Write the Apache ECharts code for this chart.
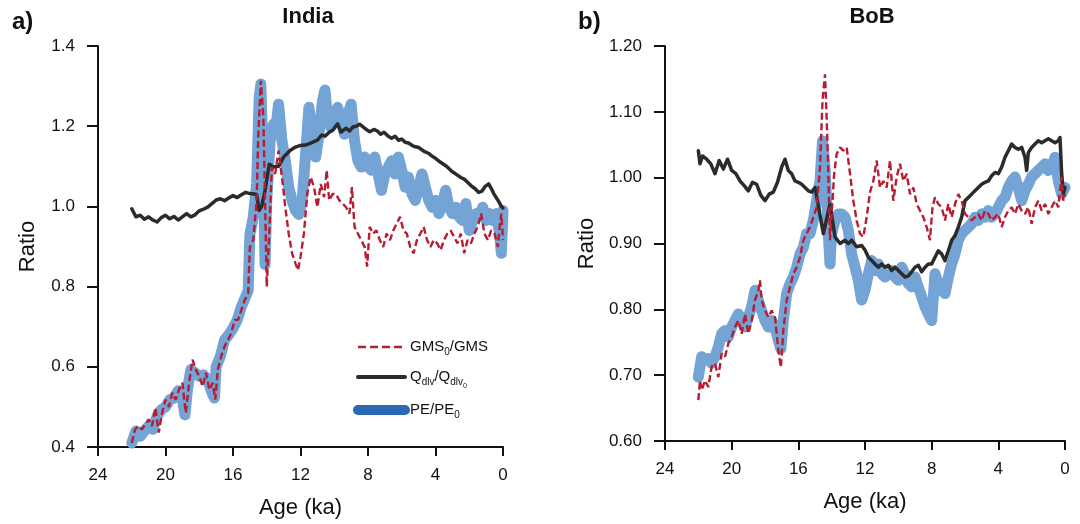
<!DOCTYPE html>
<html><head><meta charset="utf-8">
<script src="https://cdn.jsdelivr.net/npm/echarts/dist/echarts.min.js"></script>
<style>html,body{margin:0;padding:0;background:#fff}#c{width:1080px;height:524px}</style>
</head><body><div id="c"></div>
<script>
// ---------- tick labels ----------
var xTicks = [24, 20, 16, 12, 8, 4, 0];
var indiaYTicks = [0.4, 0.6, 0.8, 1.0, 1.2, 1.4];
var bobYTicks = [0.6, 0.7, 0.8, 0.9, 1.0, 1.1, 1.2];
var panelTitles = ['India', 'BoB'];
var panelLetters = ['a)', 'b)'];
var seriesNames = ['GMS0/GMS', 'Qdlv/Qdlv0', 'PE/PE0'];

// ---------- India (panel a) ----------
var indiaQAge = [22,21.75,21.5,21.25,21,20.75,20.5,20.25,20,19.75,19.5,19.25,19,18.75,18.5,18.25,18,17.75,17.5,17.25,17,16.75,16.5,16.25,16,15.75,15.5,15.25,15,14.75,14.6,14.45,14.3,14.1,13.85,13.6,13.3,13.0,12.6,12.3,12.0,11.7,11.4,11.0,10.75,10.55,10.3,10.1,9.8,9.6,9.3,9.1,8.9,8.7,8.5,8.2,7.9,7.65,7.45,7.25,7.05,6.8,6.6,6.4,6.2,6.0,5.8,5.6,5.3,5.0,4.7,4.4,4.2,4.0,3.7,3.35,3.1,2.95,2.7,2.5,2.3,2.1,1.9,1.65,1.45,1.25,1.05,0.85,0.7,0.55,0.4,0.25,0.1,0];
var indiaQVal = [0.994,0.974,0.978,0.968,0.974,0.966,0.961,0.972,0.978,0.969,0.975,0.966,0.974,0.982,0.974,0.979,0.989,0.993,0.998,1.007,1.016,1.019,1.014,1.021,1.027,1.022,1.029,1.035,1.032,1.031,1.03,0.99,1.0,1.04,1.105,1.098,1.1,1.123,1.14,1.148,1.152,1.153,1.158,1.165,1.178,1.175,1.185,1.19,1.206,1.185,1.195,1.188,1.198,1.2,1.205,1.195,1.186,1.192,1.188,1.18,1.185,1.175,1.17,1.175,1.165,1.168,1.16,1.158,1.15,1.147,1.138,1.132,1.125,1.12,1.11,1.1,1.09,1.085,1.078,1.072,1.068,1.06,1.052,1.044,1.035,1.038,1.05,1.056,1.045,1.032,1.022,1.012,1.0,0.996];

var indiaPeAge = [22,21.75,21.5,21.25,21,20.75,20.5,20.25,20,19.75,19.5,19.25,19,18.85,18.7,18.5,18.25,18,17.75,17.5,17.25,17.1,17,16.75,16.5,16.25,16,15.75,15.5,15.25,15.1,15,14.8,14.6,14.45,14.35,14.2,14.1,14,13.8,13.6,13.5,13.3,13.1,12.9,12.7,12.5,12.3,12.1,11.9,11.7,11.5,11.3,11.1,10.9,10.7,10.55,10.4,10.2,10,9.8,9.6,9.4,9.2,9,8.8,8.6,8.4,8.2,8,7.8,7.6,7.4,7.2,7,6.8,6.6,6.4,6.2,6,5.8,5.6,5.4,5.2,5,4.8,4.6,4.4,4.2,4,3.8,3.6,3.4,3.2,3,2.8,2.6,2.4,2.2,2,1.8,1.6,1.4,1.2,1,0.8,0.6,0.4,0.2,0.1,0];
var indiaPeVal = [0.41,0.44,0.427,0.44,0.452,0.444,0.477,0.493,0.5,0.518,0.522,0.54,0.52,0.48,0.543,0.593,0.585,0.576,0.58,0.568,0.535,0.522,0.6,0.626,0.667,0.68,0.696,0.717,0.75,0.775,0.79,0.93,0.973,1.056,1.27,1.305,1.1,0.855,1.015,1.164,1.205,1.18,1.255,1.164,1.114,1.048,1.015,0.99,0.98,1.015,1.13,1.247,1.18,1.123,1.18,1.263,1.29,1.222,1.197,1.23,1.247,1.214,1.18,1.23,1.255,1.164,1.114,1.098,1.123,1.098,1.09,1.123,1.081,1.04,1.081,1.098,1.114,1.081,1.123,1.09,1.048,1.073,1.031,1.015,1.048,1.081,1.048,1.015,0.998,1.015,0.982,1.007,1.04,0.998,0.982,0.998,0.974,0.965,1.007,0.94,0.965,0.982,0.974,0.998,0.965,0.982,0.965,0.982,0.932,0.883,0.99];

var indiaGmsAge = [22,21.8,21.6,21.4,21.2,21,20.8,20.6,20.4,20.2,20,19.8,19.6,19.4,19.2,19,18.8,18.6,18.4,18.2,18,17.8,17.6,17.4,17.2,17.05,16.9,16.7,16.5,16.3,16.1,15.9,15.7,15.5,15.3,15.1,15,14.8,14.6,14.5,14.35,14.2,14.1,14,13.85,13.7,13.5,13.3,13.1,12.9,12.7,12.5,12.3,12.15,12,11.8,11.6,11.4,11.2,11,10.8,10.6,10.45,10.3,10.1,9.9,9.7,9.5,9.3,9.1,8.95,8.8,8.6,8.4,8.2,8.05,7.9,7.7,7.5,7.3,7.1,6.9,6.7,6.5,6.3,6.1,5.9,5.7,5.5,5.3,5.1,4.9,4.7,4.5,4.3,4.1,3.9,3.7,3.5,3.3,3.1,2.9,2.7,2.5,2.3,2.1,1.9,1.7,1.5,1.3,1.1,0.9,0.7,0.5,0.3,0.2,0.1,0];
var indiaGmsVal = [0.41,0.444,0.452,0.444,0.456,0.469,0.452,0.498,0.436,0.485,0.518,0.5,0.535,0.518,0.543,0.56,0.485,0.56,0.618,0.593,0.576,0.551,0.585,0.543,0.56,0.518,0.593,0.626,0.651,0.667,0.684,0.717,0.717,0.742,0.767,0.783,0.899,0.916,1.015,1.18,1.313,1.222,1.015,0.8,0.932,1.098,1.081,1.139,1.073,0.998,0.932,0.883,0.858,0.841,0.874,0.932,1.031,1.073,1.048,0.998,1.056,1.023,1.09,1.015,1.031,1.031,1.015,1.007,0.998,0.982,1.048,0.949,0.932,0.916,0.899,0.85,0.949,0.932,0.94,0.916,0.899,0.932,0.916,0.94,0.957,0.974,0.94,0.932,0.899,0.883,0.916,0.932,0.949,0.916,0.899,0.916,0.908,0.891,0.916,0.932,0.94,0.924,0.908,0.932,0.883,0.916,0.908,0.932,0.949,0.982,0.932,0.916,0.94,0.932,0.899,0.949,0.982,0.916];

// ---------- BoB (panel b) ----------
var bobQAge = [22,21.9,21.75,21.5,21.25,21,20.75,20.5,20.25,20,19.75,19.5,19.25,19,18.75,18.5,18.25,18,17.75,17.5,17.25,17,16.8,16.6,16.4,16.2,16,15.8,15.6,15.4,15.2,15,14.9,14.5,14.1,13.8,13.5,13.2,13,12.8,12.5,12.2,12,11.8,11.6,11.4,11.2,11,10.8,10.6,10.4,10.2,10,9.8,9.6,9.4,9.2,9,8.8,8.6,8.4,8.2,8,7.8,7.6,7.4,7.2,7,6.8,6.6,6.4,6.2,6,5.8,5.6,5.4,5.2,5,4.8,4.6,4.4,4.2,4,3.8,3.6,3.4,3.2,3,2.8,2.6,2.4,2.3,2.2,2,1.8,1.6,1.4,1.2,1,0.8,0.6,0.4,0.3,0.2,0.1,0];
var bobQVal = [1.041,1.021,1.033,1.028,1.021,1.006,1.026,1.013,1.028,1.011,1.006,0.995,0.988,0.98,0.993,0.99,0.973,0.965,0.975,0.978,0.993,1.016,1.028,1.011,1.006,0.995,0.993,0.99,0.985,0.98,0.978,0.985,0.983,0.915,0.96,0.91,0.9,0.905,0.9,0.905,0.895,0.897,0.89,0.879,0.874,0.869,0.864,0.869,0.864,0.867,0.859,0.864,0.859,0.854,0.849,0.851,0.857,0.864,0.867,0.857,0.864,0.869,0.869,0.879,0.889,0.884,0.874,0.889,0.905,0.912,0.925,0.94,0.965,0.97,0.975,0.98,0.985,0.99,0.993,0.995,1.003,1.008,1.006,1.016,1.031,1.041,1.051,1.046,1.043,1.046,1.031,1.011,1.038,1.046,1.051,1.056,1.053,1.056,1.059,1.056,1.053,1.056,1.061,1.006,0.975,0.985];

var bobPeAge = [22,21.8,21.6,21.4,21.2,21,20.8,20.6,20.4,20.2,20,19.8,19.6,19.4,19.2,19,18.8,18.6,18.4,18.2,18,17.8,17.6,17.4,17.2,17.05,16.9,16.7,16.5,16.3,16.1,15.9,15.7,15.5,15.3,15.1,14.9,14.7,14.55,14.4,14.3,14.2,14.1,14,13.8,13.6,13.4,13.2,13,12.8,12.6,12.4,12.2,12,11.8,11.6,11.4,11.2,11,10.8,10.6,10.4,10.2,10,9.8,9.6,9.4,9.2,9,8.8,8.6,8.4,8.2,8,7.8,7.6,7.4,7.2,7,6.8,6.6,6.4,6.2,6,5.8,5.6,5.4,5.2,5,4.8,4.6,4.4,4.2,4,3.8,3.6,3.4,3.2,3,2.8,2.6,2.4,2.2,2,1.8,1.6,1.4,1.2,1,0.8,0.6,0.4,0.2,0];
var bobPeVal = [0.697,0.728,0.723,0.725,0.718,0.728,0.743,0.763,0.768,0.758,0.773,0.783,0.793,0.783,0.773,0.788,0.804,0.829,0.814,0.798,0.783,0.773,0.783,0.773,0.753,0.74,0.783,0.824,0.839,0.849,0.864,0.884,0.894,0.915,0.915,0.935,0.965,0.995,1.056,1.016,0.965,0.915,0.869,0.915,0.935,0.945,0.945,0.94,0.92,0.884,0.864,0.844,0.814,0.829,0.854,0.874,0.859,0.869,0.854,0.849,0.854,0.859,0.849,0.844,0.864,0.854,0.839,0.834,0.849,0.834,0.819,0.804,0.793,0.783,0.854,0.839,0.829,0.824,0.849,0.869,0.884,0.905,0.915,0.92,0.925,0.93,0.94,0.935,0.945,0.94,0.95,0.94,0.945,0.955,0.965,0.97,0.985,0.995,1.001,0.985,0.965,0.98,0.99,1.001,1.006,1.011,1.016,1.021,1.011,1.016,1.031,0.995,0.975,0.985];

var bobGmsAge = [22,21.9,21.8,21.6,21.4,21.2,21,20.8,20.6,20.4,20.2,20,19.8,19.6,19.4,19.2,19,18.8,18.6,18.4,18.3,18.2,18,17.8,17.6,17.4,17.2,17.05,16.9,16.7,16.5,16.3,16.1,15.9,15.7,15.5,15.3,15.1,14.9,14.7,14.55,14.4,14.3,14.2,14.1,14,13.85,13.7,13.5,13.3,13.1,12.9,12.7,12.5,12.3,12.1,11.9,11.7,11.5,11.3,11.1,10.9,10.7,10.5,10.3,10.1,9.9,9.7,9.5,9.3,9.1,8.9,8.7,8.5,8.3,8.1,7.95,7.8,7.6,7.4,7.2,7,6.8,6.6,6.4,6.2,6,5.8,5.6,5.4,5.2,5,4.8,4.6,4.4,4.2,4,3.8,3.6,3.4,3.2,3,2.8,2.6,2.4,2.2,2,1.8,1.6,1.4,1.2,1,0.8,0.6,0.4,0.3,0.2,0.1,0];
var bobGmsVal = [0.662,0.692,0.677,0.692,0.682,0.713,0.718,0.697,0.733,0.728,0.748,0.758,0.773,0.783,0.763,0.793,0.763,0.783,0.814,0.829,0.844,0.814,0.798,0.788,0.798,0.788,0.738,0.712,0.768,0.814,0.834,0.854,0.864,0.879,0.905,0.915,0.925,0.94,0.955,1.016,1.117,1.157,1.091,1.006,0.905,0.945,1.006,1.036,1.046,1.041,1.046,1.006,0.965,0.935,0.915,0.91,0.94,0.978,0.995,1.026,0.985,0.995,0.985,1.026,0.965,1.001,1.021,0.995,1.006,0.975,0.985,0.96,0.95,0.94,0.925,0.905,0.955,0.97,0.96,0.955,0.935,0.96,0.94,0.96,0.975,0.965,0.945,0.94,0.935,0.94,0.945,0.935,0.95,0.945,0.935,0.94,0.945,0.925,0.94,0.95,0.955,0.945,0.96,0.95,0.945,0.955,0.93,0.955,0.965,0.95,0.96,0.945,0.955,0.965,0.955,0.98,1.001,0.965,0.975];

function pairs(ages, vals) { return ages.map(function (a, i) { return [a, vals[i]]; }); }

var FONT = 'Liberation Sans, Arial, Helvetica, sans-serif';
var RED = '#b81c30', BLACK = '#2b2b2b', BLUE = '#74a3d5', BLUE_LEG = '#2c69b3';

var chart = echarts.init(document.getElementById('c'), null, { renderer: 'canvas' });

function xAxisFor(grid) {
  return {
    type: 'value', gridIndex: grid, min: 0, max: 24, interval: 4, inverse: true,
    position: 'bottom',
    name: 'Age (ka)', nameLocation: 'middle', nameGap: 50,
    nameTextStyle: { fontSize: 22, color: '#111', fontFamily: FONT },
    axisLine: { onZero: false, lineStyle: { color: '#111', width: 2 } },
    axisTick: { show: true, length: 9, lineStyle: { color: '#111', width: 2 } },
    axisLabel: { fontSize: 17, color: '#111', fontFamily: FONT, margin: 20,
      formatter: function (v) { return xTicks.indexOf(v) >= 0 ? String(v) : ''; } },
    splitLine: { show: false }
  };
}
function yAxisFor(grid, ticks, step, dec, gap) {
  return {
    type: 'value', gridIndex: grid, min: ticks[0], max: ticks[ticks.length - 1], interval: step,
    position: 'left',
    name: 'Ratio', nameLocation: 'middle', nameGap: gap, nameRotate: 90,
    nameTextStyle: { fontSize: 22, color: '#111', fontFamily: FONT },
    axisLine: { show: true, onZero: false, lineStyle: { color: '#111', width: 2 } },
    axisTick: { show: true, length: 11, lineStyle: { color: '#111', width: 2 } },
    axisLabel: { fontSize: 17, color: '#111', fontFamily: FONT, margin: 23,
      formatter: function (v) { return v.toFixed(dec); } },
    splitLine: { show: false }
  };
}

function seriesSet(idx, pe, q, gms) {
  return [
    { name: seriesNames[2], type: 'line', xAxisIndex: idx, yAxisIndex: idx, data: pe,
      symbol: 'none', clip: false, z: 2,
      lineStyle: { color: BLUE, width: 11, cap: 'round', join: 'round' }, itemStyle: { color: BLUE } },
    { name: seriesNames[1], type: 'line', xAxisIndex: idx, yAxisIndex: idx, data: q,
      symbol: 'none', clip: false, z: 3,
      lineStyle: { color: BLACK, width: 3.5, cap: 'round', join: 'round' }, itemStyle: { color: BLACK } },
    { name: seriesNames[0], type: 'line', xAxisIndex: idx, yAxisIndex: idx, data: gms,
      symbol: 'none', clip: false, z: 4,
      lineStyle: { color: RED, width: 2.4, type: [7, 3.5] }, itemStyle: { color: RED } }
  ];
}

var richLabels = {
  'GMS0/GMS': '{n|GMS}{s|0}{n|/GMS}',
  'Qdlv/Qdlv0': '{n|Q}{s|dlv}{n|/Q}{s|dlv}{ss|0}',
  'PE/PE0': '{n|PE/PE}{s|0}'
};
var hiddenSymbol = { opacity: 0, color: 'transparent', borderWidth: 0 };

var option = {
  animation: false,
  backgroundColor: '#ffffff',
  title: [
    { text: panelTitles[0], left: 308, top: 6, textAlign: 'center', padding: 0,
      textStyle: { fontSize: 22, fontWeight: 'bold', color: '#111', fontFamily: FONT } },
    { text: panelTitles[1], left: 872, top: 6, textAlign: 'center', padding: 0,
      textStyle: { fontSize: 22, fontWeight: 'bold', color: '#111', fontFamily: FONT } },
    { text: panelLetters[0], left: 12, top: 10, padding: 0,
      textStyle: { fontSize: 24, fontWeight: 'bold', color: '#111', fontFamily: FONT } },
    { text: panelLetters[1], left: 578, top: 10, padding: 0,
      textStyle: { fontSize: 24, fontWeight: 'bold', color: '#111', fontFamily: FONT } }
  ],
  grid: [
    { left: 98, top: 46, width: 405, height: 401 },
    { left: 665, top: 46, width: 400, height: 395 }
  ],
  xAxis: [xAxisFor(0), xAxisFor(1)],
  yAxis: [yAxisFor(0, indiaYTicks, 0.2, 1, 59), yAxisFor(1, bobYTicks, 0.1, 2, 67)],
  legend: {
    orient: 'vertical', left: 353, top: 339, itemGap: 12, itemWidth: 47, itemHeight: 14,
    selectedMode: false, padding: 0,
    data: [
      { name: seriesNames[0], itemStyle: hiddenSymbol, lineStyle: { color: RED, width: 2.4, type: [8, 4], opacity: 1 } },
      { name: seriesNames[1], itemStyle: hiddenSymbol, lineStyle: { color: BLACK, width: 4, cap: 'round', opacity: 1 } },
      { name: seriesNames[2], itemStyle: hiddenSymbol, lineStyle: { color: BLUE_LEG, width: 10, cap: 'round', opacity: 1 } }
    ],
    formatter: function (name) { return richLabels[name]; },
    textStyle: {
      color: '#111', fontFamily: FONT,
      rich: {
        n: { fontSize: 15, lineHeight: 16, verticalAlign: 'top', color: '#111', fontFamily: FONT },
        s: { fontSize: 10, lineHeight: 10, padding: [8, 0, 0, 0], verticalAlign: 'top', color: '#111', fontFamily: FONT },
        ss: { fontSize: 7, lineHeight: 7, padding: [14, 0, 0, 0], verticalAlign: 'top', color: '#111', fontFamily: FONT }
      }
    }
  },
  series: [].concat(
    seriesSet(0, pairs(indiaPeAge, indiaPeVal), pairs(indiaQAge, indiaQVal), pairs(indiaGmsAge, indiaGmsVal)),
    seriesSet(1, pairs(bobPeAge, bobPeVal), pairs(bobQAge, bobQVal), pairs(bobGmsAge, bobGmsVal))
  )
};
chart.setOption(option);
</script></body></html>
